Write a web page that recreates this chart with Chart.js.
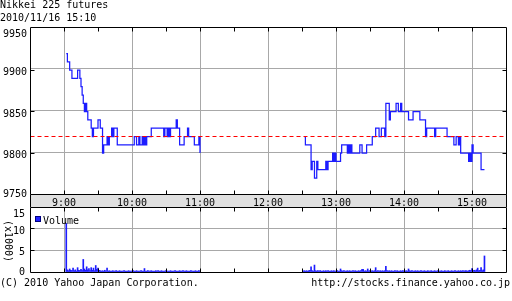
<!DOCTYPE html>
<html><head><meta charset="utf-8">
<script src="https://cdn.jsdelivr.net/npm/chart.js@4.4.1/dist/chart.umd.min.js"></script>
<style>
html,body{margin:0;padding:0;background:#fff;}
body{width:512px;height:301px;position:relative;overflow:hidden;font-family:"DejaVu Sans Mono",monospace;font-size:10px;color:#000;}
.t{position:absolute;white-space:pre;line-height:12px;font-family:"DejaVu Sans Mono",monospace;font-size:10px;}
canvas{position:absolute;left:0;}
</style></head><body>
<canvas id="c1" width="512" height="208" style="top:0"></canvas>
<canvas id="c2" width="512" height="94" style="top:207px"></canvas>
<div class="t" style="left:0;top:-1px">Nikkei 225 futures</div>
<div class="t" style="left:0;top:11.5px">2010/11/16 15:10</div>
<div class="t" style="left:0;top:276.5px">(C) 2010 Yahoo Japan Corporation.</div>
<div class="t" style="right:2px;top:276.5px">http://stocks.finance.yahoo.co.jp</div>
<div class="t" style="left:-13px;top:235px;width:42px;text-align:center;transform:rotate(90deg);">(x1000)</div>
<div style="position:absolute;left:35px;top:216px;width:4px;height:4px;background:#2020ff;border:1px solid #000080"></div>
<div class="t" style="left:43px;top:214.5px">Volume</div>
<script>
// ---- data ----
const hourLabels = ['9:00','10:00','11:00','12:00','13:00','14:00','15:00'];
const priceTickValues = [9750, 9800, 9850, 9900, 9950];
const priceTickLabels = ['9750','9800','9850','9900','9950'];
const volTickValues = [0, 5000, 10000, 15000];
const volTickLabels = ['0','5','10','15'];
const prevClose = 9820;

const amTimes  = ['9:02','9:03','9:05','9:07','9:12','9:14','9:15','9:16','9:17','9:18','9:19','9:20','9:21','9:24','9:25','9:26','9:30','9:32','9:34','9:35','9:38','9:39','9:40','9:42','9:43','9:44','9:47','10:02','10:04','10:06','10:07','10:09','10:10','10:11','10:12','10:13','10:17','10:28','10:29','10:31','10:32','10:33','10:34','10:39','10:40','10:42','10:46','10:49','10:50','10:55','10:59','11:00'];
const amPrices = [9920,9910,9900,9890,9900,9890,9880,9870,9860,9850,9860,9850,9840,9830,9820,9830,9840,9830,9800,9810,9820,9810,9820,9830,9820,9830,9810,9820,9810,9820,9810,9820,9810,9820,9810,9820,9830,9820,9830,9820,9830,9820,9830,9840,9830,9810,9820,9830,9820,9810,9820,9800];

const pmTimes  = ['12:32','12:33','12:38','12:39','12:41','12:43','12:44','12:51','12:52','12:53','12:57','12:58','12:59','13:00','13:04','13:05','13:10','13:11','13:12','13:13','13:14','13:21','13:23','13:27','13:32','13:35','13:38','13:40','13:43','13:44','13:47','13:48','13:53','13:55','13:57','13:58','14:04','14:08','14:14','14:19','14:20','14:27','14:28','14:38','14:44','14:46','14:48','14:49','14:50','14:57','14:58','14:59','15:00','15:01','15:08','15:11'];
const pmPrices = [9820,9810,9780,9790,9770,9790,9780,9790,9780,9790,9800,9790,9800,9790,9800,9810,9800,9810,9800,9810,9800,9810,9800,9810,9820,9830,9820,9830,9820,9860,9840,9850,9860,9850,9860,9850,9840,9850,9840,9820,9830,9820,9830,9820,9810,9820,9810,9820,9800,9790,9800,9790,9810,9800,9780,9780];

// volume per minute, from 9:02
const amVolStart = '9:02';
const amVolume = [
 11200,500,300,700,400,300,900,300,500,200,
 1000,400,300,600,300,2900,700,400,1200,500,
 800,300,1000,400,900,300,1500,600,900,400,
 300,200,300,200,400,200,900,200,300,200,
 200,300,200,200,300,200,200,300,200,200,
 200,300,200,200,200,300,200,200,200,300,
 200,200,300,200,200,200,300,200,200,800,
 200,200,300,200,200,300,200,200,200,300,
 200,300,200,200,300,200,200,200,300,200,
 200,200,300,200,200,200,300,200,200,200,
 300,200,200,300,200,200,300,200,200,200,
 300,200,200,200,300,200,200,300,200];
// volume per minute, from 12:31
const pmVolStart = '12:31';
const pmVolume = [
 200,300,200,300,200,300,400,1200,300,200,
 1600,300,200,300,200,300,200,200,300,200,
 300,200,300,200,200,300,200,300,200,200,
 300,200,200,700,300,200,300,200,200,300,
 200,300,200,200,300,200,300,200,200,300,
 200,300,600,600,200,300,200,700,200,300,
 200,300,200,300,1000,200,300,200,300,200,
 300,200,300,1300,300,200,300,200,300,200,
 200,300,200,300,200,200,300,200,300,200,
 200,300,200,700,300,200,300,200,200,300,
 200,300,200,200,300,200,200,300,200,200,
 300,200,200,300,200,200,300,200,200,300,
 200,200,300,200,200,300,200,200,300,200,
 200,300,200,200,300,200,200,300,200,300,
 200,300,200,300,300,200,300,400,300,800,
 300,400,300,500,900,300,400,1000,300,500,
 3700];

// ---- helpers ----
const toMin = s => { const [h, m] = s.split(':').map(Number); return (h - 9) * 60 + m; };
const BLUE = '#1c1cff', GRID = '#a8a8a8', FONT = '"DejaVu Sans Mono", monospace';
const amPts = amTimes.map((t, i) => ({x: toMin(t), y: amPrices[i]}));
const pmPts = pmTimes.map((t, i) => ({x: toMin(t), y: pmPrices[i]}));
const volPts = [];
amVolume.forEach((v, i) => volPts.push({x: toMin(amVolStart) + i, y: v}));
pmVolume.forEach((v, i) => volPts.push({x: toMin(pmVolStart) + i, y: v}));
const X_MIN = -30, X_MAX = 390;
const al = p => Math.round(p - 0.5) + 0.5;

const framePlugin = {
  id: 'frame',
  beforeDraw(chart, args, o) {
    const a = chart.chartArea, ctx = chart.ctx;
    if (o.bandBottom) {
      const L = al(a.left), R = al(a.right), B = al(a.bottom);
      ctx.save(); ctx.fillStyle = '#e0e0e0';
      ctx.fillRect(L + 0.5, B + 0.5, R - L - 1, o.bandBottom - B - 0.5);
      ctx.restore();
    }
  },
  afterDraw(chart, args, o) {
    const a = chart.chartArea, ctx = chart.ctx;
    const L = al(a.left), R = al(a.right), T = al(a.top), B = al(a.bottom);
    const xs = chart.scales.x, ys = chart.scales.y;
    ctx.save();
    if (o.refLine !== undefined) {
      const y = al(ys.getPixelForValue(o.refLine));
      ctx.strokeStyle = '#ff0000'; ctx.setLineDash([4, 3]); ctx.lineWidth = 1;
      ctx.beginPath(); ctx.moveTo(L, y); ctx.lineTo(R, y); ctx.stroke();
      ctx.setLineDash([]);
    }
    ctx.strokeStyle = '#000'; ctx.lineWidth = 1;
    ctx.beginPath();
    ctx.rect(L, T, R - L, B - T);
    if (o.bandBottom) {
      ctx.moveTo(L, B); ctx.lineTo(L, o.bandBottom); ctx.moveTo(R, B); ctx.lineTo(R, o.bandBottom);
    }
    xs.ticks.forEach(t => {
      if (t.value <= X_MIN || t.value >= X_MAX) return;
      const x = al(xs.getPixelForValue(t.value));
      ctx.moveTo(x, T); ctx.lineTo(x, T + 4);
      ctx.moveTo(x, B); ctx.lineTo(x, B - 4);
    });
    o.values.forEach(v => {
      if (v <= o.values[0] || v >= o.values[o.values.length - 1]) return;
      const y = al(ys.getPixelForValue(v));
      ctx.moveTo(L, y); ctx.lineTo(L + 4, y);
      ctx.moveTo(R, y); ctx.lineTo(R - 4, y);
    });
    ctx.stroke();
    ctx.fillStyle = '#000'; ctx.font = '10px ' + FONT; ctx.textAlign = 'right'; ctx.textBaseline = 'alphabetic';
    o.values.forEach((v, i) => {
      const y = ys.getPixelForValue(v);
      const b = Math.min(Math.max(y + 5, T + 9), B + 2.5);
      ctx.fillText(o.labels[i], o.labelRight, b);
    });
    ctx.restore();
  }
};

const gridX = c => (c.tick && c.tick.value % 60 === 0 && c.tick.value > X_MIN && c.tick.value < X_MAX) ? GRID : 'rgba(0,0,0,0)';
const xBase = () => ({
  type: 'linear', min: X_MIN, max: X_MAX, offset: false,
  grid: {color: gridX, drawTicks: false, lineWidth: 1, offset: false},
  border: {display: false}
});

new Chart(document.getElementById('c1'), {
  type: 'line',
  data: {datasets: [
    {data: amPts, stepped: true, borderColor: BLUE, borderWidth: 1.25, pointRadius: 0},
    {data: pmPts, stepped: true, borderColor: BLUE, borderWidth: 1.25, pointRadius: 0}
  ]},
  options: {
    responsive: false, animation: false, events: [],
    layout: {padding: {top: 27, right: 6, left: 0, bottom: 0}},
    plugins: {legend: {display: false}, tooltip: {enabled: false},
      frame: {bandBottom: 207, values: priceTickValues, labels: priceTickLabels, labelRight: 27, refLine: prevClose}},
    scales: {
      x: Object.assign(xBase(), {
        afterFit: s => { s.height = 13.4; },
        ticks: {stepSize: 30, autoSkip: false, maxRotation: 0, minRotation: 0, padding: 3, color: '#000',
          font: {family: FONT, size: 10},
          callback: v => (v % 60 === 0 && v >= 0 && v <= 360) ? hourLabels[v / 60] : ''}
      }),
      y: {min: 9750, max: 9952, afterFit: s => { s.width = 30; },
        ticks: {stepSize: 50, display: false, includeBounds: false},
        grid: {color: c => (c.tick && Math.round(c.tick.value) > 9750 && Math.round(c.tick.value) < 9950) ? GRID : 'rgba(0,0,0,0)', drawTicks: false},
        border: {display: false}}
    }
  },
  plugins: [framePlugin]
});

new Chart(document.getElementById('c2'), {
  type: 'bar',
  data: {datasets: [
    {data: volPts, backgroundColor: BLUE, borderWidth: 0, barThickness: 1}
  ]},
  options: {
    responsive: false, animation: false, events: [],
    layout: {padding: {top: 0, right: 6, left: 0, bottom: 29}},
    plugins: {legend: {display: false}, tooltip: {enabled: false},
      frame: {bandBottom: 0, values: volTickValues, labels: volTickLabels, labelRight: 25}},
    scales: {
      x: Object.assign(xBase(), {
        afterFit: s => { s.height = 0; },
        ticks: {stepSize: 30, autoSkip: false, display: false}
      }),
      y: {min: 0, max: 15000, afterFit: s => { s.width = 30; },
        ticks: {stepSize: 5000, display: false},
        grid: {color: c => (c.tick && c.tick.value > 0 && c.tick.value < 15000) ? GRID : 'rgba(0,0,0,0)', drawTicks: false},
        border: {display: false}}
    }
  },
  plugins: [framePlugin]
});
</script>
</body></html>
